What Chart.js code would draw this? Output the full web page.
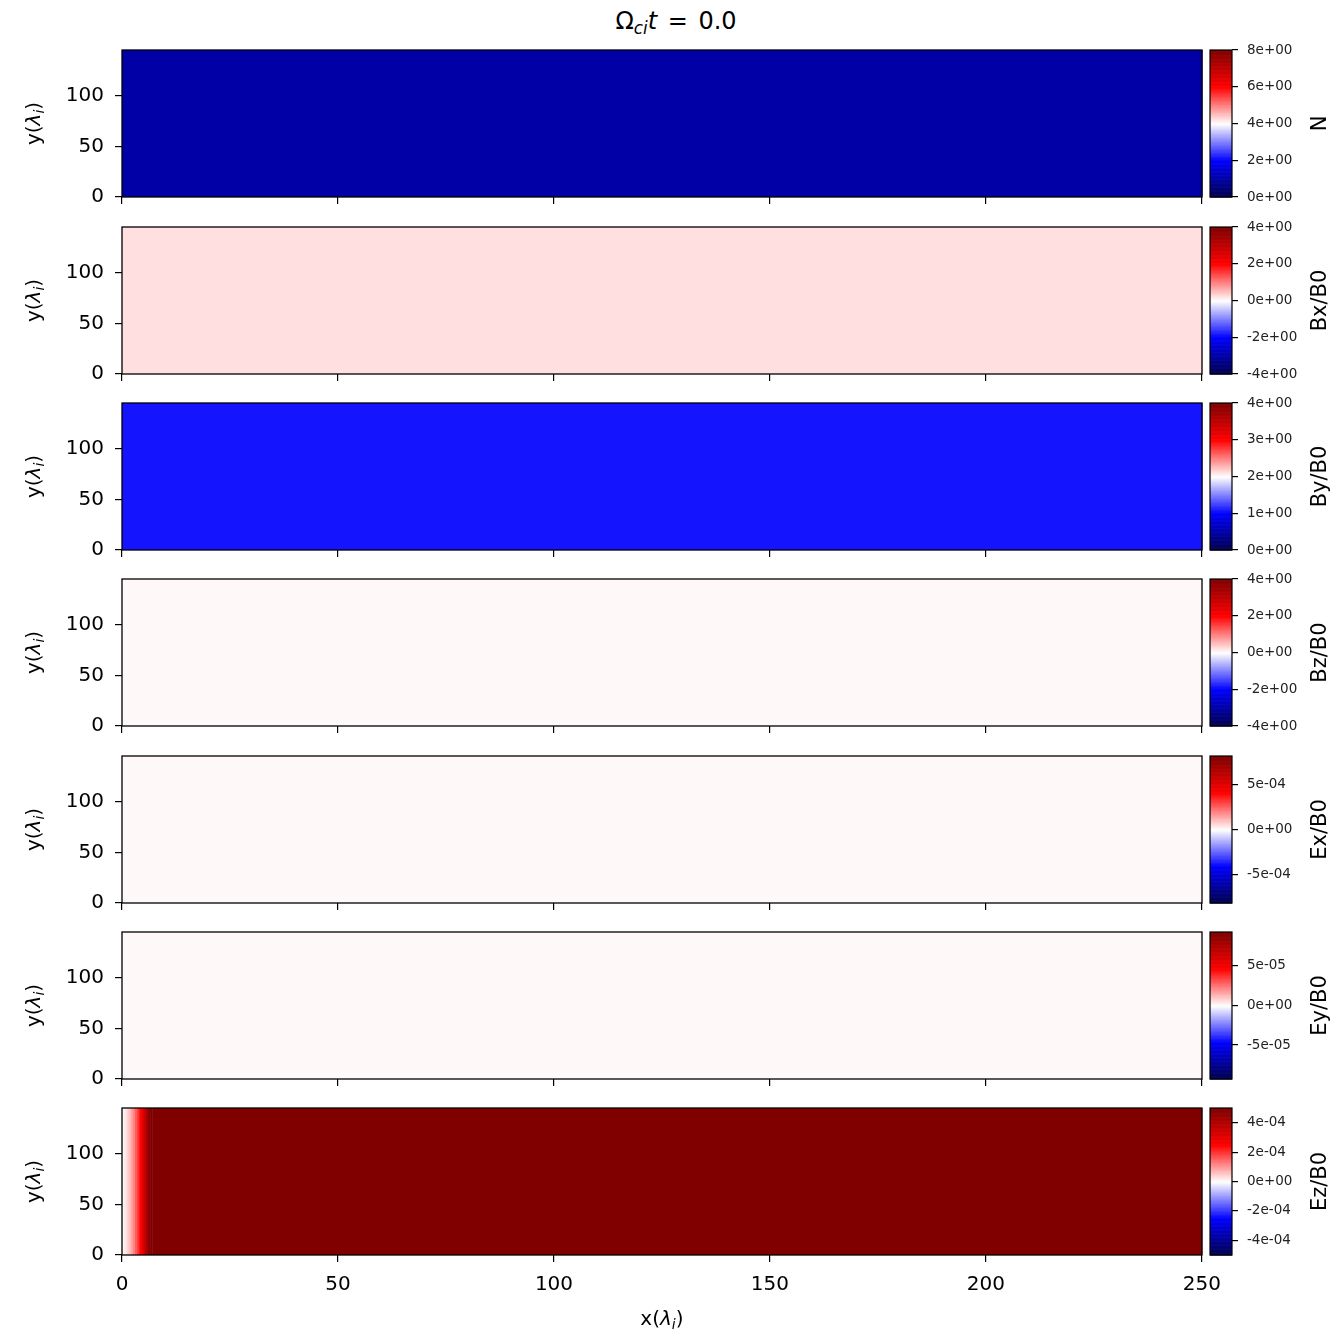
<!DOCTYPE html>
<html>
<head>
<meta charset="utf-8">
<script src="https://cdn.jsdelivr.net/npm/chart.js@4.4.1/dist/chart.umd.min.js"></script>
<style>
    body {margin: 0; background: #fff; width: 1339px; height: 1337px; position: relative; overflow: hidden; font-family: "DejaVu Sans", sans-serif;}
    canvas {position: absolute;}
    #titre {position: absolute; left: 0; width: 1352px; top: 7px; text-align: center; font-size: 24px; line-height: 28px; color: #000; word-spacing: 3px;}
    #titre sub {font-size: 0.7em; vertical-align: -0.3em; line-height: 1;}
</style>
</head>
<body>
<div id="titre">Ω<sub><i>ci</i></sub><i>t</i> = 0.0</div>
<script>
// valeurs
const fieldLabels = ['N', 'Bx/B0', 'By/B0', 'Bz/B0', 'Ex/B0', 'Ey/B0', 'Ez/B0'];
const xTicks = [0, 50, 100, 150, 200, 250];
const yTicks = [0, 50, 100];
const xMin = 0, xMax = 250;
const yMin = 0, yMax = 145;

const cbarMin = [0, -4, 0, -4, -8.1e-4, -9.3e-5, -5e-4];
const cbarMax = [8, 4, 4, 4, 8.1e-4, 9.3e-5, 5e-4];
const cbarTicks = [
    [0, 2, 4, 6, 8],
    [-4, -2, 0, 2, 4],
    [0, 1, 2, 3, 4],
    [-4, -2, 0, 2, 4],
    [-5e-4, 0, 5e-4],
    [-5e-5, 0, 5e-5],
    [-4e-4, -2e-4, 0, 2e-4, 4e-4]
];

// colonnes en x (champ uniforme en y)
const uniformEdges = [0, 250];
const nValues = [1.0];
const bxValues = [0.25];
const byValues = [1.08];
const bzValues = [0.055];
const exValues = [1.1e-5];
const eyValues = [1.3e-6];
const ezEdges = [0, 0.5, 1, 1.5, 2, 2.5, 3, 3.5, 4, 4.5, 5, 5.5, 6, 6.5, 7, 250];
const ezValues = [0.1e-4, 0.2e-4, 0.4e-4, 0.6e-4, 0.9e-4, 1.2e-4, 1.6e-4, 2.0e-4, 2.5e-4, 3.0e-4, 3.6e-4, 4.2e-4, 4.8e-4, 5.3e-4, 5.5e-4];

const fields = [
    {edges: uniformEdges, values: nValues},
    {edges: uniformEdges, values: bxValues},
    {edges: uniformEdges, values: byValues},
    {edges: uniformEdges, values: bzValues},
    {edges: uniformEdges, values: exValues},
    {edges: uniformEdges, values: eyValues},
    {edges: ezEdges, values: ezValues}
];

const FONT = '"DejaVu Sans", sans-serif';
const panelTops = [50, 227, 403, 579, 756, 932, 1108];
const panelH = 147;
const padTop = 32;
const padBar = 18;

// colormap seismic de matplotlib
const seismicStops = [[0, 0, 0, 0.3], [0.25, 0, 0, 1], [0.5, 1, 1, 1], [0.75, 1, 0, 0], [1, 0.5, 0, 0]];
function seismic(f) {
    f = Math.min(1, Math.max(0, f));
    for (let k = 1; k < seismicStops.length; k++) {
        const a = seismicStops[k - 1], b = seismicStops[k];
        if (f <= b[0]) {
            const t = (f - a[0]) / (b[0] - a[0]);
            const c = [1, 2, 3].map(j => Math.round(255 * (a[j] + t * (b[j] - a[j]))));
            return `rgb(${c[0]},${c[1]},${c[2]})`;
        }
    }
    return 'rgb(128,0,0)';
}

function fmtExp(v) {
    if (v === 0) return '0e+00';
    const [m, e] = v.toExponential(0).split('e');
    const sign = e[0] === '-' ? '-' : '+';
    const d = e.replace(/[+-]/, '').padStart(2, '0');
    return `${m}e${sign}${d}`;
}

// texte type mathtext : y(λ_i)
function drawRich(ctx, parts, x, y, size, angle) {
    ctx.save();
    ctx.translate(x, y);
    ctx.rotate(angle);
    ctx.fillStyle = '#000';
    ctx.textBaseline = 'middle';
    ctx.textAlign = 'left';
    const fontOf = p => `${p.it ? 'italic ' : ''}${p.sub ? size * 0.7 : size}px ${FONT}`;
    let total = 0;
    parts.forEach(p => { ctx.font = fontOf(p); total += ctx.measureText(p.t).width; });
    let cx = -total / 2;
    parts.forEach(p => {
        ctx.font = fontOf(p);
        ctx.fillText(p.t, cx, p.sub ? size * 0.25 : 0);
        cx += ctx.measureText(p.t).width;
    });
    ctx.restore();
}
const lambdaLabel = axe => [{t: axe + '('}, {t: 'λ', it: true}, {t: 'i', it: true, sub: true}, {t: ')'}];

function makeCanvas(left, top, w, h) {
    const c = document.createElement('canvas');
    c.width = w; c.height = h;
    c.style.left = left + 'px'; c.style.top = top + 'px';
    c.style.width = w + 'px'; c.style.height = h + 'px';
    document.body.appendChild(c);
    return c;
}

function criarPainel(i) {
    const last = i === fields.length - 1;
    const top = panelTops[i] - padTop;
    const h = last ? 1337 - top : padTop + panelH + 26;
    const w = 1232;
    const field = fields[i];

    const heatPlugin = {
        id: 'heat' + i,
        beforeDatasetsDraw(chart) {
            const {ctx, scales: {x, y}} = chart;
            ctx.save();
            for (let k = 0; k < field.values.length; k++) {
                const x0 = x.getPixelForValue(field.edges[k]);
                const x1 = x.getPixelForValue(field.edges[k + 1]);
                const y0 = y.getPixelForValue(yMax);
                const y1 = y.getPixelForValue(yMin);
                const f = (field.values[k] - cbarMin[i]) / (cbarMax[i] - cbarMin[i]);
                ctx.fillStyle = seismic(f);
                ctx.fillRect(x0, y0, x1 - x0 + 0.5, y1 - y0);
            }
            ctx.restore();
        },
        afterDraw(chart) {
            const {ctx, chartArea: a} = chart;
            ctx.save();
            ctx.strokeStyle = '#000';
            ctx.lineWidth = 1.3;
            ctx.strokeRect(a.left, a.top, a.right - a.left, a.bottom - a.top);
            ctx.restore();
            drawRich(ctx, lambdaLabel('y'), 35, (a.top + a.bottom) / 2, 20, -Math.PI / 2);
            if (last) {
                drawRich(ctx, lambdaLabel('x'), (a.left + a.right) / 2, 1320 - top, 20, 0);
            }
        }
    };

    new Chart(makeCanvas(0, top, w, h), {
        type: 'scatter',
        data: {datasets: []},
        options: {
            responsive: false,
            animation: false,
            devicePixelRatio: 1,
            layout: {padding: {top: padTop, left: 0, right: w - 1202, bottom: 0}},
            plugins: {legend: {display: false}, tooltip: {enabled: false}},
            scales: {
                x: {
                    type: 'linear', min: xMin, max: xMax,
                    afterBuildTicks: s => { s.ticks = xTicks.map(v => ({value: v})); },
                    afterFit: s => { s.height = h - padTop - panelH; },
                    border: {display: false},
                    grid: {drawOnChartArea: false, drawTicks: true, tickLength: 7, color: '#000', lineWidth: 1.2},
                    ticks: {display: last, color: '#000', font: {size: 20, family: FONT}, padding: 11, maxRotation: 0, autoSkip: false}
                },
                y: {
                    type: 'linear', min: yMin, max: yMax,
                    afterBuildTicks: s => { s.ticks = yTicks.map(v => ({value: v})); },
                    afterFit: s => { s.width = 122; },
                    border: {display: false},
                    grid: {drawOnChartArea: false, drawTicks: true, tickLength: 7, color: '#000', lineWidth: 1.2},
                    ticks: {color: '#000', font: {size: 20, family: FONT}, padding: 11, autoSkip: false}
                }
            }
        },
        plugins: [heatPlugin]
    });
}

function criarBarra(i) {
    const top = panelTops[i] - padBar;
    const left = 1190, w = 149, h = panelH + 2 * padBar;
    const nStrips = 256;
    const barPlugin = {
        id: 'cbar' + i,
        beforeDatasetsDraw(chart) {
            const {ctx, chartArea: a, scales: {y}} = chart;
            const step = (cbarMax[i] - cbarMin[i]) / nStrips;
            ctx.save();
            for (let k = 0; k < nStrips; k++) {
                const v0 = cbarMin[i] + k * step;
                const p0 = y.getPixelForValue(v0);
                const p1 = y.getPixelForValue(v0 + step);
                ctx.fillStyle = seismic((k + 0.5) / nStrips);
                ctx.fillRect(a.left, p1, a.right - a.left, p0 - p1 + 0.6);
            }
            ctx.restore();
        },
        afterDraw(chart) {
            const {ctx, chartArea: a} = chart;
            ctx.save();
            ctx.strokeStyle = '#000';
            ctx.lineWidth = 1.2;
            ctx.strokeRect(a.left, a.top, a.right - a.left, a.bottom - a.top);
            ctx.restore();
            drawRich(ctx, [{t: fieldLabels[i]}], 1321 - left, (a.top + a.bottom) / 2, 21, -Math.PI / 2);
        }
    };

    new Chart(makeCanvas(left, top, w, h), {
        type: 'scatter',
        data: {datasets: []},
        options: {
            responsive: false,
            animation: false,
            devicePixelRatio: 1,
            layout: {padding: {top: padBar, bottom: padBar, left: 1210 - left, right: 0}},
            plugins: {legend: {display: false}, tooltip: {enabled: false}},
            scales: {
                x: {type: 'linear', display: false, min: 0, max: 1},
                y: {
                    type: 'linear', position: 'right', min: cbarMin[i], max: cbarMax[i],
                    afterBuildTicks: s => { s.ticks = cbarTicks[i].map(v => ({value: v})); },
                    afterFit: s => { s.width = w - (1210 - left) - 22; },
                    border: {display: false},
                    grid: {drawOnChartArea: false, drawTicks: true, tickLength: 6, color: '#000', lineWidth: 1.2},
                    ticks: {color: '#222', font: {size: 13.5, family: FONT}, padding: 9, autoSkip: false, callback: v => fmtExp(v)}
                }
            }
        },
        plugins: [barPlugin]
    });
}

fields.forEach((f, i) => { criarPainel(i); criarBarra(i); });
</script>
</body>
</html>
